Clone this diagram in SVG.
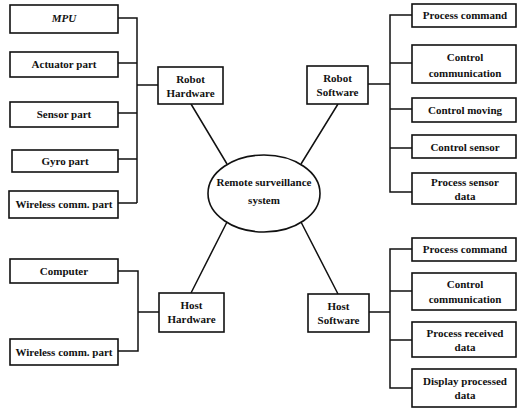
<svg xmlns="http://www.w3.org/2000/svg" width="517" height="410" viewBox="0 0 517 410">
<style>
.box{fill:#fff;stroke:#111;stroke-width:1.6}
.ln{fill:none;stroke:#111;stroke-width:1.5}
text{font-family:"Liberation Serif","Times New Roman",serif;font-size:11px;font-weight:bold;fill:#111;text-anchor:middle}
.it{font-style:italic}
</style>
<rect width="517" height="410" fill="#fff"/>
<g id="connectors" class="ln">
<path d="M118,18H137V203M118,63H137M118,113H137M118,159H137M118,203H137M137,85H158"/>
<path d="M118,271H138V351H118M138,312H159"/>
<path d="M412,15H390V192H412M412,63H390M412,109H390M412,148H390M368,84H390"/>
<path d="M412,249H390V388H412M412,291H390M412,340H390M369,312H390"/>
<path d="M191,104L227,164M338,104L301,164M191,293L227,222M338,294L301,222"/>
</g>
<g id="center"><ellipse class="box" cx="264" cy="193.5" rx="56" ry="38.5"/><text x="264" y="186">Remote surveillance</text><text x="264" y="204">system</text></g>
<g id="robot-hw"><rect class="box" x="158" y="67" width="65" height="37"/><text x="190.5" y="83">Robot</text><text x="190.5" y="97">Hardware</text></g>
<g id="robot-sw"><rect class="box" x="307" y="66" width="61" height="38"/><text x="337.5" y="82">Robot</text><text x="337.5" y="96">Software</text></g>
<g id="host-hw"><rect class="box" x="159" y="293" width="65" height="39"/><text x="191.5" y="309">Host</text><text x="191.5" y="323">Hardware</text></g>
<g id="host-sw"><rect class="box" x="308" y="294" width="61" height="38"/><text x="338.5" y="310">Host</text><text x="338.5" y="324">Software</text></g>
<g id="mpu"><rect class="box" x="10" y="5" width="108" height="28"/><text class="it" x="64" y="22">MPU</text></g>
<g id="actuator"><rect class="box" x="10" y="52" width="108" height="25"/><text x="64" y="68">Actuator part</text></g>
<g id="sensor"><rect class="box" x="10" y="102" width="108" height="25"/><text x="64" y="118">Sensor part</text></g>
<g id="gyro"><rect class="box" x="12" y="150" width="106" height="22"/><text x="65" y="165">Gyro part</text></g>
<g id="wireless1"><rect class="box" x="9" y="191" width="109" height="27"/><text x="64" y="208">Wireless comm. part</text></g>
<g id="computer"><rect class="box" x="10" y="259" width="108" height="24"/><text x="64" y="275">Computer</text></g>
<g id="wireless2"><rect class="box" x="10" y="339" width="108" height="26"/><text x="64" y="356">Wireless comm. part</text></g>
<g id="rs-cmd"><rect class="box" x="412" y="4" width="104" height="23"/><text x="465" y="19">Process command</text></g>
<g id="rs-comm"><rect class="box" x="412" y="45" width="104" height="38"/><text x="465" y="61">Control</text><text x="465" y="77">communication</text></g>
<g id="rs-move"><rect class="box" x="412" y="98" width="104" height="24"/><text x="465" y="114">Control moving</text></g>
<g id="rs-sensor"><rect class="box" x="412" y="135" width="104" height="23"/><text x="465" y="151">Control sensor</text></g>
<g id="rs-data"><rect class="box" x="412" y="173" width="104" height="31"/><text x="465" y="186">Process sensor</text><text x="465" y="200">data</text></g>
<g id="hs-cmd"><rect class="box" x="412" y="238" width="104" height="23"/><text x="465" y="253">Process command</text></g>
<g id="hs-comm"><rect class="box" x="412" y="273" width="104" height="37"/><text x="465" y="288">Control</text><text x="465" y="303">communication</text></g>
<g id="hs-recv"><rect class="box" x="412" y="322" width="104" height="35"/><text x="465" y="337">Process received</text><text x="465" y="351">data</text></g>
<g id="hs-disp"><rect class="box" x="412" y="369" width="104" height="38"/><text x="465" y="385">Display processed</text><text x="465" y="399">data</text></g>
</svg>
